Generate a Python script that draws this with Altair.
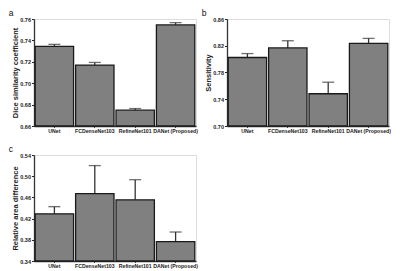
import altair as alt
import pandas as pd

models = ["UNet", "FCDenseNet103", "RefineNet101", "DANet (Proposed)"]
dice = [0.7345, 0.7169, 0.6748, 0.7545]
dice_err = [0.0018, 0.0025, 0.0015, 0.0021]
sens = [0.8024, 0.8167, 0.7482, 0.8236]
sens_err = [0.0059, 0.0108, 0.0173, 0.0074]
rad = [0.429, 0.467, 0.4555, 0.3766]
rad_err = [0.0135, 0.053, 0.0379, 0.0181]

FONT = "Liberation Sans"


def panel(vals, errs, domain, ticks, ytitle, label, h):
    df = pd.DataFrame({"model": models, "v": vals,
                       "hi": [v + e for v, e in zip(vals, errs)]})
    x = alt.X("model:N", sort=models,
              scale=alt.Scale(paddingInner=0.05, paddingOuter=0.03),
              axis=alt.Axis(title=None, labelAngle=0, ticks=True, tickSize=1.5,
                            tickColor="#444", domain=True, domainColor="#333",
                            domainWidth=1.3,
                            labelFontSize=5.2, labelFontWeight="bold",
                            labelPadding=0.5, labelColor="#222", labelFont=FONT,
                            labelOverlap=False))
    yscale = alt.Scale(domain=domain, nice=False, zero=False)
    yaxis = alt.Axis(values=ticks, format=".2f", title=ytitle,
                     titleFontSize=7.5, titleFontWeight="bold",
                     titleFont=FONT, titleColor="#222", titlePadding=0,
                     labelFontSize=5.5, labelFontWeight="bold",
                     labelFont=FONT, labelColor="#222",
                     tickSize=2.5, tickColor="#222", domain=True,
                     domainColor="#333", domainWidth=1.3,
                     grid=False, labelPadding=1, labelOverlap=False)
    base = alt.Chart(df).encode(x=x)
    bars = base.mark_bar(color="#808080", stroke="#1a1a1a", strokeWidth=1.3).encode(
        y=alt.Y("v:Q", scale=yscale, axis=yaxis, title=ytitle),
        y2=alt.datum(domain[0]))
    rule = base.mark_rule(color="#333", strokeWidth=1.3).encode(
        y=alt.Y("v:Q", scale=yscale, axis=yaxis, title=ytitle), y2="hi:Q")
    cap = base.mark_tick(color="#333", thickness=1.3, size=12).encode(
        y=alt.Y("hi:Q", scale=yscale, axis=yaxis, title=ytitle))
    return alt.layer(rule, bars, cap).properties(
        width=162, height=h,
        title=alt.TitleParams(label, anchor="start", fontSize=8.5, fontWeight="normal",
                              font=FONT, color="#111", offset=0, dx=-3))


a = panel(dice, dice_err, [0.66, 0.76], [0.66, 0.68, 0.70, 0.72, 0.74, 0.76],
          "Dice similarity coefficient", "a", 107)
b = panel(sens, sens_err, [0.70, 0.86], [0.70, 0.74, 0.78, 0.82, 0.86],
          "Sensitivity", "b", 107)
c = panel(rad, rad_err, [0.34, 0.54], [0.34, 0.38, 0.42, 0.46, 0.50, 0.54],
          "Relative area difference", "c", 106)

chart = alt.vconcat(alt.hconcat(a, b, spacing=3), c, spacing=10).properties(
    padding=0).configure_view(stroke="#777", strokeWidth=1.2).configure(
    background="white")

chart.save("out.html", embed_options={"renderer": "svg", "actions": False})
